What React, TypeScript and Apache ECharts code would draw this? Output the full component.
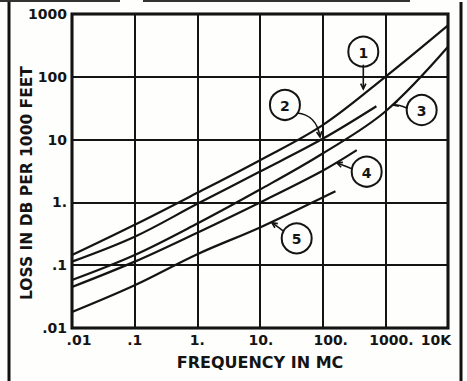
import React, { useEffect, useRef } from "react";
import * as echarts from "echarts";

// tick labels
const xTickLabels = [".01", ".1", "1.", "10.", "100.", "1000.", "10K"];
const yTickLabels = [".01", ".1", "1.", "10", "100", "1000"];

// curves (frequency in MC, loss in dB per 1000 ft)
const freq1 = [0.01, 0.1, 1, 10, 100, 1000, 10000];
const loss1 = [0.145, 0.44, 1.42, 4.7, 17, 100, 660];
const freq2 = [0.01, 0.1, 1, 10, 100, 720];
const loss2 = [0.114, 0.284, 0.95, 3.1, 10.3, 34];
const freq3 = [0.01, 0.1, 1, 10, 100, 1000, 10000];
const loss3 = [0.058, 0.145, 0.46, 1.6, 6.0, 28, 300];
const freq4 = [0.01, 0.1, 1, 10, 100, 350];
const loss4 = [0.045, 0.114, 0.33, 1.0, 3.2, 6.8];
const freq5 = [0.01, 0.1, 1, 10, 100, 160];
const loss5 = [0.018, 0.048, 0.15, 0.4, 1.2, 1.5];

// curve callouts (data coordinates)
const calloutNames = ["1", "2", "3", "4", "5"];
const calloutCircles = [[445, 251], [25, 35.6], [3800, 29.6], [504, 3.08], [38.5, 0.268]];
const calloutTips = [[445, 64], [90.6, 11], [1325, 35.6], [169, 4.24], [15.5, 0.475]];

const FONT = "DejaVu Sans";
const INK = "#141414";

export default function App() {
  const ref = useRef<HTMLDivElement>(null);
  useEffect(() => {
    if (!ref.current) return;
    const chart = echarts.init(ref.current, undefined, { renderer: "svg" });
    const zip = (f: number[], l: number[]) => f.map((v, i) => [v, l[i]]);
    const curves = [zip(freq1, loss1), zip(freq2, loss2), zip(freq3, loss3), zip(freq4, loss4), zip(freq5, loss5)];
    const baseRich = { fontFamily: FONT, fontSize: 14, fontWeight: "bold", color: INK };
    chart.setOption({
      animation: false,
      backgroundColor: "#fefefc",
      grid: { left: 72, top: 14, right: 19, bottom: 53, show: true, borderColor: "#000", borderWidth: 3 },
      xAxis: {
        type: "log",
        logBase: 10,
        min: 0.01,
        max: 10000,
        axisLine: { show: false },
        axisTick: { show: false },
        splitLine: { show: true, lineStyle: { color: INK, width: 2 } },
        axisLabel: {
          margin: 5,
          formatter: (v: number) => {
            const i = Math.round(Math.log10(v)) + 2;
            return `{s${i}|${xTickLabels[i]}}`;
          },
          rich: {
            s0: { ...baseRich, padding: [0, 0, 0, 14] },
            s1: { ...baseRich },
            s2: { ...baseRich },
            s3: { ...baseRich, padding: [0, 0, 0, 2] },
            s4: { ...baseRich, padding: [0, 0, 0, 16] },
            s5: { ...baseRich, padding: [0, 0, 0, 12] },
            s6: { ...baseRich, padding: [0, 24, 0, 0] },
          },
        },
        name: "FREQUENCY IN MC",
        nameLocation: "middle",
        nameGap: 26,
        nameTextStyle: { fontFamily: FONT, fontSize: 16, fontWeight: "bold", color: INK },
      },
      yAxis: {
        type: "log",
        logBase: 10,
        min: 0.01,
        max: 1000,
        axisLine: { show: false },
        axisTick: { show: false },
        splitLine: { show: true, lineStyle: { color: INK, width: 2 } },
        axisLabel: {
          margin: 5,
          fontFamily: FONT,
          fontSize: 14,
          fontWeight: "bold",
          color: INK,
          formatter: (v: number) => yTickLabels[Math.round(Math.log10(v)) + 2],
        },
      },
      series: curves.map((d, i) => ({
        type: "line",
        name: calloutNames[i],
        data: d,
        symbol: "none",
        smooth: 0.35,
        lineStyle: { color: INK, width: 2.2 },
        z: 3,
      })),
    });

    const px = (p: number[]) => chart.convertToPixel({ xAxisIndex: 0, yAxisIndex: 0 }, p) as number[];
    const R = 15;
    const graphics: any[] = [];
    // outer frame
    graphics.push({ type: "line", shape: { x1: 9, y1: 0, x2: 9, y2: 381 }, style: { stroke: "#111", lineWidth: 3 } });
    graphics.push({ type: "line", shape: { x1: 461, y1: 2, x2: 461, y2: 381 }, style: { stroke: "#111", lineWidth: 3 } });
    graphics.push({ type: "line", shape: { x1: 0, y1: 1, x2: 120, y2: 1 }, style: { stroke: "#333", lineWidth: 2 } });
    graphics.push({ type: "line", shape: { x1: 143, y1: 1, x2: 410, y2: 1 }, style: { stroke: "#333", lineWidth: 2 } });
    graphics.push({
      type: "text",
      x: 27,
      y: 183,
      rotation: Math.PI / 2,
      style: { text: "LOSS IN DB PER 1000 FEET", fontFamily: FONT, fontSize: 15.5, fontWeight: "bold", fill: INK, align: "center", verticalAlign: "middle" },
    });

    // leader start offsets and control offsets relative to circle centre
    const leaders = [
      { s: [0, R], c1: [0, 10], c2: [0, 20] },
      { s: [12, 8], c1: [25, 9], c2: [33, 18] },
      { s: [-R, -2], c1: [-20, -4], c2: [-25, -6] },
      { s: [-R, -3], c1: [-20, -5], c2: [-25, -7] },
      { s: [-13, -7], c1: [-17, -10], c2: [-21, -13] },
    ];
    calloutNames.forEach((name, i) => {
      const c = px(calloutCircles[i]);
      const t = px(calloutTips[i]);
      const L = leaders[i];
      const s = [c[0] + L.s[0], c[1] + L.s[1]];
      const c1 = [c[0] + L.c1[0], c[1] + L.c1[1]];
      const c2 = [c[0] + L.c2[0], c[1] + L.c2[1]];
      graphics.push({ type: "circle", shape: { cx: c[0], cy: c[1], r: R }, style: { fill: "#fefefc", stroke: INK, lineWidth: 2 }, z: 10 });
      graphics.push({
        type: "text",
        x: c[0],
        y: c[1] + 1,
        style: { text: name, fontFamily: FONT, fontSize: 14, fontWeight: "bold", fill: INK, align: "center", verticalAlign: "middle" },
        z: 11,
      });
      graphics.push({
        type: "bezierCurve",
        shape: { x1: s[0], y1: s[1], cpx1: c1[0], cpy1: c1[1], cpx2: c2[0], cpy2: c2[1], x2: t[0], y2: t[1] },
        style: { stroke: INK, lineWidth: 1.6, fill: null },
        z: 10,
      });
      const ang = Math.atan2(t[1] - c2[1], t[0] - c2[0]);
      const a = 6;
      const p1 = [t[0] - a * Math.cos(ang - 0.45), t[1] - a * Math.sin(ang - 0.45)];
      const p2 = [t[0] - a * Math.cos(ang + 0.45), t[1] - a * Math.sin(ang + 0.45)];
      graphics.push({ type: "polyline", shape: { points: [p1, t, p2] }, style: { stroke: INK, lineWidth: 1.6, fill: null }, z: 10 });
    });
    chart.setOption({ graphic: graphics });
    return () => chart.dispose();
  }, []);
  return <div ref={ref} style={{ position: "fixed", left: 0, top: 0, width: 467, height: 381 }} />;
}
